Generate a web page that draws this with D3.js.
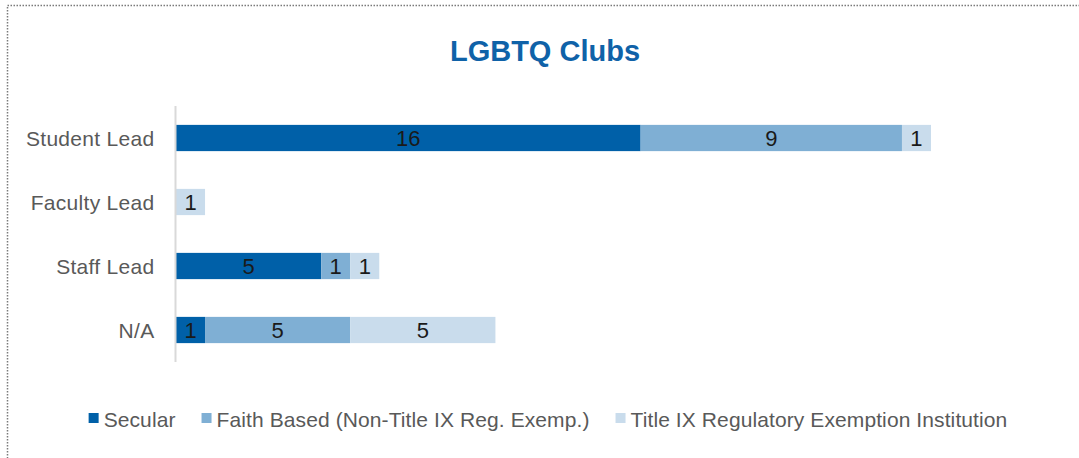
<!DOCTYPE html>
<html>
<head>
<meta charset="utf-8">
<script src="https://cdn.jsdelivr.net/npm/d3@7"></script>
<style>
  html, body { margin: 0; padding: 0; background: #fff; }
  svg { display: block; }
  text { font-family: "Liberation Sans", Arial, Helvetica, sans-serif; }
</style>
</head>
<body>
<svg id="chart" width="1079" height="458"></svg>
<script>
const title = "LGBTQ Clubs";
const categories = ["Student Lead", "Faculty Lead", "Staff Lead", "N/A"];
const seriesNames = ["Secular", "Faith Based (Non-Title IX Reg. Exemp.)", "Title IX Regulatory Exemption Institution"];
const secular = [16, 0, 5, 1];
const faithBased = [9, 0, 1, 5];
const titleIX = [1, 1, 1, 5];
const colors = ["#0060a8", "#7fafd4", "#c9dcec"];

const svg = d3.select("#chart");
const W = 1079, H = 458;

// dotted frame
svg.append("rect")
  .attr("x", 7.5).attr("y", 5.5)
  .attr("width", W + 10).attr("height", H + 10)
  .attr("fill", "none")
  .attr("stroke", "#7a7a7a")
  .attr("stroke-width", 1.5)
  .attr("stroke-dasharray", "1.5,1.5");

// title
svg.append("text")
  .attr("x", 545).attr("y", 61)
  .attr("text-anchor", "middle")
  .attr("font-size", 29)
  .attr("font-weight", "bold")
  .attr("fill", "#0f62a8")
  .text(title);

const table = categories.map((c, i) => ({
  category: c,
  s0: secular[i], s1: faithBased[i], s2: titleIX[i]
}));
const stack = d3.stack().keys(["s0", "s1", "s2"])(table);

const x = d3.scaleLinear().domain([0, 26]).range([176, 931]);
const y = d3.scaleBand().domain(categories).range([106, 362]).paddingInner(0.59).paddingOuter(0.295);

// bars
stack.forEach((layer, li) => {
  const g = svg.append("g");
  layer.forEach(d => {
    const v = d[1] - d[0];
    if (v <= 0) return;
    g.append("rect")
      .attr("x", x(d[0]))
      .attr("y", y(d.data.category))
      .attr("width", x(d[1]) - x(d[0]))
      .attr("height", y.bandwidth())
      .attr("fill", colors[li]);
    g.append("text")
      .attr("x", (x(d[0]) + x(d[1])) / 2)
      .attr("y", y(d.data.category) + y.bandwidth() / 2)
      .attr("dy", "0.36em")
      .attr("text-anchor", "middle")
      .attr("font-size", 22)
      .attr("fill", "#1a1a1a")
      .text(v);
  });
});

// y axis
const yAxis = d3.axisLeft(y).tickSize(0).tickPadding(21);
const ag = svg.append("g").attr("transform", "translate(175.5,0)").call(yAxis);
ag.select(".domain").attr("stroke", "#d9d9d9").attr("stroke-width", 2)
  .attr("d", "M0,106V362");
ag.selectAll(".tick text")
  .attr("font-size", 21)
  .attr("letter-spacing", 0.3)
  .attr("fill", "#595959")
  .attr("font-family", '"Liberation Sans", Arial, sans-serif')
  .attr("dy", "0.36em");

// legend
const lg = svg.append("g");
let cx = 0;
seriesNames.forEach((name, i) => {
  const it = lg.append("g").attr("transform", `translate(${cx},0)`);
  it.append("rect").attr("x", 0).attr("y", -6).attr("width", 10).attr("height", 10).attr("fill", colors[i]);
  const t = it.append("text").attr("x", 15).attr("y", 0).attr("dy", "0.36em")
    .attr("font-size", 21).attr("letter-spacing", 0.1).attr("fill", "#595959").text(name);
  const w = 15 + t.node().getComputedTextLength();
  cx += w + 26;
});
const total = cx - 26;
lg.attr("transform", `translate(${548 - total / 2},419)`);
</script>
</body>
</html>
